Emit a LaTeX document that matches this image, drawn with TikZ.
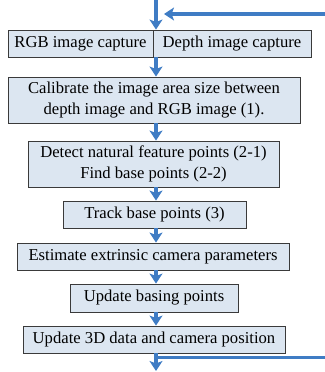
\documentclass[tikz,border=0pt]{standalone}
\usepackage{fontspec}
\setmainfont{Liberation Serif}
\usetikzlibrary{arrows.meta}
\definecolor{boxfill}{HTML}{DCE6F1}
\definecolor{boxline}{HTML}{3A3A3A}
\definecolor{flowblue}{HTML}{3F7CC4}
\begin{document}
\begin{tikzpicture}[x=0.03cm,y=-0.03cm,
		stepbox/.style={fill=boxfill, draw=boxline, line width=0.7pt, inner sep=0pt, align=center, font=\fontsize{14.2}{17.3}\selectfont},
		flow/.style={draw=flowblue, line width=2.8pt, -{Stealth[inset=2pt,length=8.5pt,width=11pt]}}]
			\useasboundingbox (0,0) rectangle (324,372);
			%--
			\node[stepbox, minimum width=145*0.03cm, minimum height=27*0.03cm] (rgb) at (80.5,43.5) {RGB image capture};
			\node[stepbox, minimum width=158*0.03cm, minimum height=27*0.03cm] (depth) at (232,43.5) {Depth image capture};
			\node[stepbox, minimum width=292*0.03cm, minimum height=46*0.03cm] (calib) at (154,100) {Calibrate the image area size between\\depth image and RGB image (1).};
			\node[stepbox, minimum width=251*0.03cm, minimum height=46*0.03cm] (detect) at (153.5,164) {Detect natural feature points (2-1)\\Find base points (2-2)};
			\node[stepbox, minimum width=183*0.03cm, minimum height=27*0.03cm] (track) at (154.5,214.5) {Track base points (3)};
			\node[stepbox, minimum width=272*0.03cm, minimum height=27*0.03cm] (estimate) at (153,256.5) {Estimate extrinsic camera parameters};
			\node[stepbox, minimum width=168*0.03cm, minimum height=28*0.03cm] (basing) at (154,298) {Update basing points};
			\node[stepbox, minimum width=262*0.03cm, minimum height=27*0.03cm] (update) at (154,339.5) {Update 3D data and camera position};
			%--
			\coordinate (axis) at (156,0);
			\coordinate (in) at (156,-4);
			\coordinate (out) at (156,371);
			\coordinate (loopin) at (330,14);
			\coordinate (looptip) at (164,14);
			\coordinate (loopout) at (158,357.5);
			\coordinate (loopend) at (330,357.5);
			%--
			\draw[flow] (in) -- (rgb.north -| axis);
			\draw[flow] (loopin) -- (looptip);
			\draw[flow] (rgb.south -| axis) -- (calib.north -| axis);
			\draw[flow] (calib.south -| axis) -- (detect.north -| axis);
			\draw[flow] (detect.south -| axis) -- (track.north -| axis);
			\draw[flow] (track.south -| axis) -- (estimate.north -| axis);
			\draw[flow] (estimate.south -| axis) -- (basing.north -| axis);
			\draw[flow] (basing.south -| axis) -- (update.north -| axis);
			\draw[flow] (update.south -| axis) -- (out);
			\draw[draw=flowblue, line width=2.8pt] (loopout) -- (loopend);
		\end{tikzpicture}
\end{document}
